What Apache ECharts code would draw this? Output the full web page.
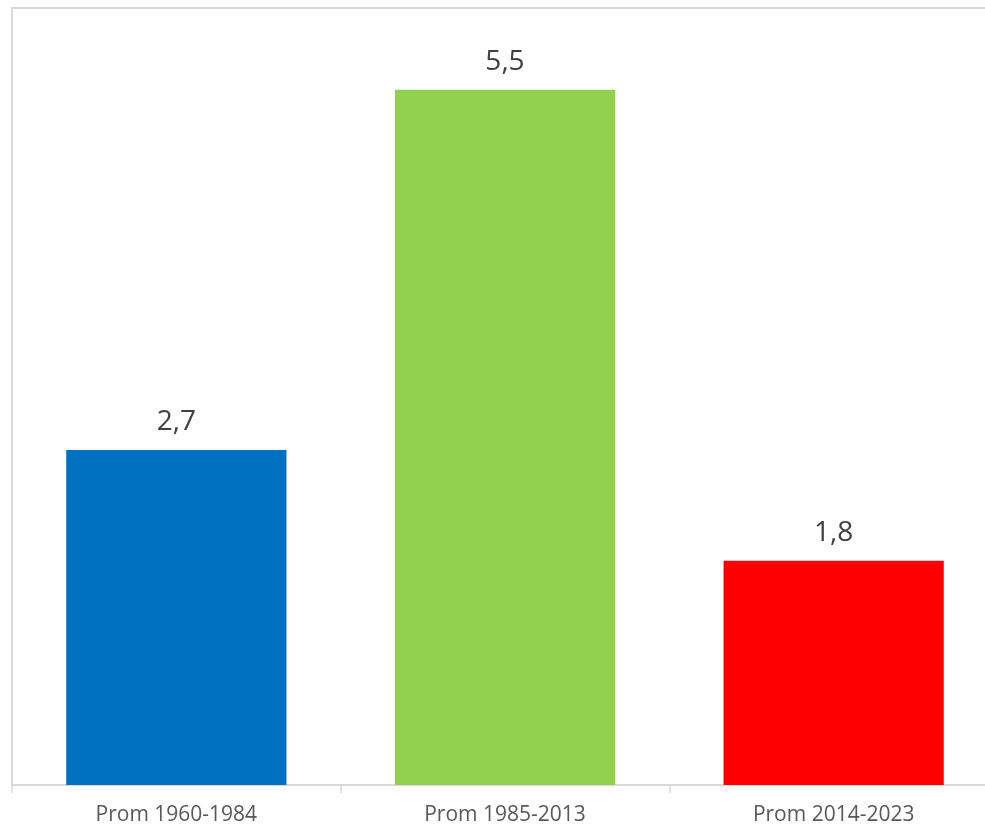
<!DOCTYPE html>
<html>
<head>
<meta charset="utf-8">
<script src="https://cdn.jsdelivr.net/npm/echarts@6/dist/echarts.min.js"></script>
<style>
html,body{margin:0;padding:0;background:#fff;}
#chart{width:985px;height:828px;}
</style>
</head>
<body>
<div id="chart"></div>
<script>
var categories = ['Prom 1960-1984', 'Prom 1985-2013', 'Prom 2014-2023'];
var values = [2.66, 5.52, 1.78];
var barColors = ['#0070C0', '#92D050', '#FF0000'];

var chart = echarts.init(document.getElementById('chart'));
chart.setOption({
  animation: false,
  backgroundColor: '#ffffff',
  grid: {
    show: true,
    borderColor: '#d9d9d9',
    borderWidth: 2,
    outerBoundsMode: 'none',
    containLabel: false,
    left: 12, top: 8, right: -13, bottom: 43
  },
  xAxis: {
    type: 'category',
    data: categories,
    axisLine: { show: true, lineStyle: { color: '#d9d9d9', width: 1.5 } },
    axisTick: { show: true, length: 8, lineStyle: { color: '#d9d9d9', width: 1.5 } },
    axisLabel: { color: '#595959', fontFamily: 'Open Sans', fontSize: 21, margin: 20 }
  },
  yAxis: {
    type: 'value',
    min: 0,
    max: 6.17,
    show: false,
    splitLine: { show: false }
  },
  series: [{
    type: 'bar',
    data: values.map(function (v, i) { return { value: v, itemStyle: { color: barColors[i] } }; }),
    barCategoryGap: '33%',
    label: {
      show: true,
      position: 'top',
      distance: 14,
      color: '#404040',
      fontFamily: 'Open Sans',
      fontSize: 28,
      formatter: function (p) { return p.value.toFixed(1).replace('.', ','); }
    }
  }]
});
</script>
</body>
</html>
